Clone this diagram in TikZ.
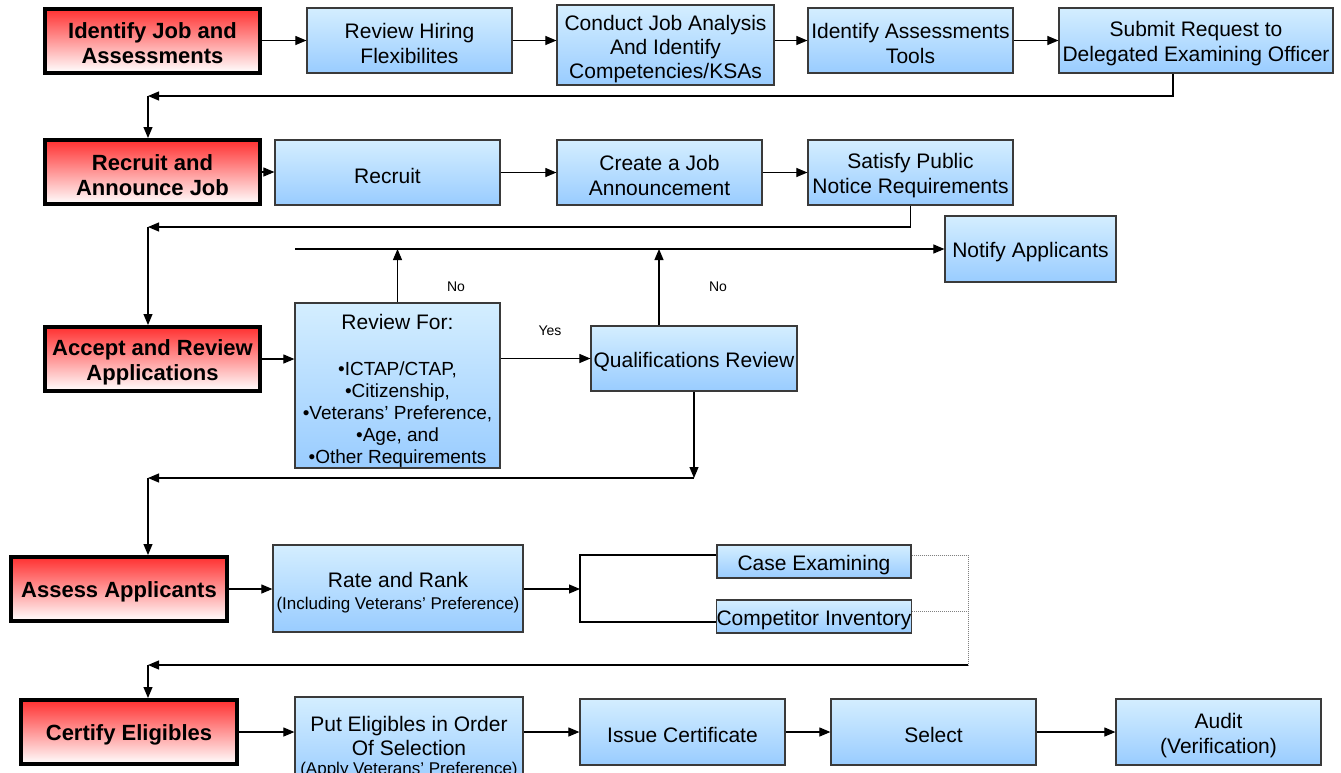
\documentclass[tikz,border=0pt]{standalone}
\usepackage{fontspec}
\setmainfont{Liberation Sans}
\usetikzlibrary{arrows.meta}
\definecolor{phasetop}{HTML}{FF3030}
\definecolor{tasktop}{HTML}{D4EEFF}
\definecolor{taskbot}{HTML}{99CCFF}
\definecolor{taskline}{HTML}{3A3A3A}
\newcommand\up[1][22pt]{\rule{0pt}{#1}}
\tikzset{
  phase/.style={draw=black,line width=4pt,top color=phasetop,bottom color=white,
    font=\bfseries\fontsize{22}{25}\selectfont,align=center,inner sep=0pt,
    minimum width=215pt,minimum height=64pt,execute at begin node={\up}},
  task/.style={draw=taskline,line width=1.2pt,top color=tasktop,bottom color=taskbot,
    font=\fontsize{21}{25}\selectfont,align=center,inner sep=0pt,
    minimum width=205pt,minimum height=65pt,execute at begin node={\up}},
  conn/.style={line width=1.1pt,-{Triangle[length=11pt,width=9pt]}},
  link/.style={line width=1.1pt},
  dotlink/.style={draw=gray,line width=0.9pt,dash pattern=on 1pt off 1pt},
  lbl/.style={font=\fontsize{14}{16}\selectfont,inner sep=0pt}
}
\begin{document}
\begin{tikzpicture}[x=1pt,y=-1pt]
  \useasboundingbox (0,0) rectangle (1341,772);
  \clip (0,0) rectangle (1341,772);
  \fill[white] (0,0) rectangle (1341,772);

  \node[phase] (R1) at (152.5,40.5) {\up Identify Job and\\Assessments};
  \node[task] (T1a) at (409.5,40.5) {\up Review Hiring\\Flexibilites};
  \node[task,minimum width=217pt,minimum height=80pt,font=\fontsize{21}{24}\selectfont] (T1b) at (665.5,45) {\up[24pt]Conduct Job Analysis\\And Identify\\Competencies/KSAs};
  \node[task] (T1c) at (910.5,40.5) {\up Identify Assessments\\Tools};
  \node[task,minimum width=274pt] (T1d) at (1196,40.5) {\up Submit Request to\\Delegated Examining Officer};

  \node[phase] (R2) at (152.5,172) {\up Recruit and\\Announce Job};
  \node[task,minimum width=225pt] (T2a) at (387.5,172.5) {Recruit};
  \node[task] (T2b) at (659.5,172.5) {\up Create a Job\\Announcement};
  \node[task] (T2c) at (910.5,172.5) {\up Satisfy Public\\Notice Requirements};

  \node[phase] (R3) at (152.5,359) {\up Accept and Review\\Applications};
  \node[task,minimum width=171pt,minimum height=66pt] (T3n) at (1030.5,249) {Notify Applicants};
  \node[task,minimum height=165pt,font=\fontsize{19}{22}\selectfont] (T3a) at (397.5,385.5) {\up[26pt]{\fontsize{21}{25}\selectfont Review For:}\\[24pt]
    •ICTAP/CTAP,\\•Citizenship,\\•Veterans' Preference,\\•Age, and\\•Other Requirements};
  \node[task,minimum width=206pt] (T3b) at (694,358.5) {Qualifications Review};

  \node[phase,minimum width=216pt] (R4) at (119,589) {Assess Applicants};
  \node[task,minimum width=250pt,minimum height=87pt,font=\fontsize{21}{22}\selectfont] (T4a) at (398,588.5) {\up[24pt]Rate and Rank\\{\fontsize{17}{21}\selectfont(Including Veterans' Preference)}};
  \node[task,minimum width=194pt,minimum height=33pt] (T4b) at (814,561.5) {Case Examining};
  \node[task,minimum width=194pt,minimum height=33pt] (T4c) at (814,616.5) {Competitor Inventory};

  \node[phase,minimum width=216pt] (R5) at (129,732) {Certify Eligibles};
  \node[task,minimum width=228pt,minimum height=90pt,font=\fontsize{21}{24}\selectfont] (T5a) at (409,742) {\up[26pt]Put Eligibles in Order\\Of Selection\\[-5pt]{\fontsize{17}{21}\selectfont(Apply Veterans' Preference)}};
  \node[task,minimum height=66pt] (T5b) at (682.5,732) {Issue Certificate};
  \node[task,minimum height=66pt] (T5c) at (933.5,732) {Select};
  \node[task,minimum height=66pt] (T5d) at (1218.5,732) {\up Audit\\(Verification)};

  \node[lbl] (no1) at (456,287) {No};
  \node[lbl] (no2) at (718,287) {No};
  \node[lbl] (yes) at (550,331) {Yes};

  \coordinate (c1) at (148,96);
  \coordinate (c2) at (148,227);
  \coordinate (c3) at (148,478);
  \coordinate (c4) at (148,665);
  \coordinate (n0) at (295,249);
  \coordinate (b0) at (580,589);
  \coordinate (d0) at (968,665);

  \draw[conn] (R1.east) -- (R1.east -| T1a.west);
  \draw[conn] (T1a.east) -- (T1a.east -| T1b.west);
  \draw[conn] (T1c.west -| T1b.east) -- (T1c.west);
  \draw[conn] (T1c.east) -- (T1d.west);
  \draw[conn] ([xshift=-23pt]T1d.south) |- (c1);
  \draw[conn] (c1) -- (R2.north -| c1);

  \draw[conn] (R2.east) -- (R2.east -| T2a.west);
  \draw[conn] (T2a.east) -- (T2b.west);
  \draw[conn] (T2b.east) -- (T2c.west);
  \draw[conn] (T2c.south) |- (c2);
  \draw[conn] (c2) -- (R3.north -| c2);

  \draw[conn] (R3.east) -- (R3.east -| T3a.west);
  \draw[conn] (n0) -- (n0 -| T3n.west);
  \draw[conn] (T3a.north) -- (T3a.north |- n0);
  \draw[conn] ([xshift=-35pt]T3b.north) -- ([xshift=-35pt]T3b.north |- n0);
  \draw[conn] (T3a.east |- T3b.west) -- (T3b.west);
  \draw[conn] (T3b.south) -- (T3b.south |- c3);
  \draw[conn] (T3b.south |- c3) -- (c3);
  \draw[conn] (c3) -- (R4.north -| c3);

  \draw[conn] (R4.east) -- (R4.east -| T4a.west);
  \draw[conn] (T4a.east |- b0) -- (b0);
  \draw[link] ([yshift=6.5pt]T4b.west) -| (b0) |- ([yshift=-5.5pt]T4c.west);
  \draw[dotlink] ([yshift=6.5pt]T4b.east) -| (d0);
  \draw[dotlink] ([yshift=5.5pt]T4c.east) -- ([yshift=5.5pt]T4c.east -| d0);
  \draw[conn] (d0) -- (c4);
  \draw[conn] (c4) -- (R5.north -| c4);

  \draw[conn] (R5.east) -- (R5.east -| T5a.west);
  \draw[conn] (T5a.east |- T5b.west) -- (T5b.west);
  \draw[conn] (T5b.east) -- (T5c.west);
  \draw[conn] (T5c.east) -- (T5d.west);
\end{tikzpicture}
\end{document}
